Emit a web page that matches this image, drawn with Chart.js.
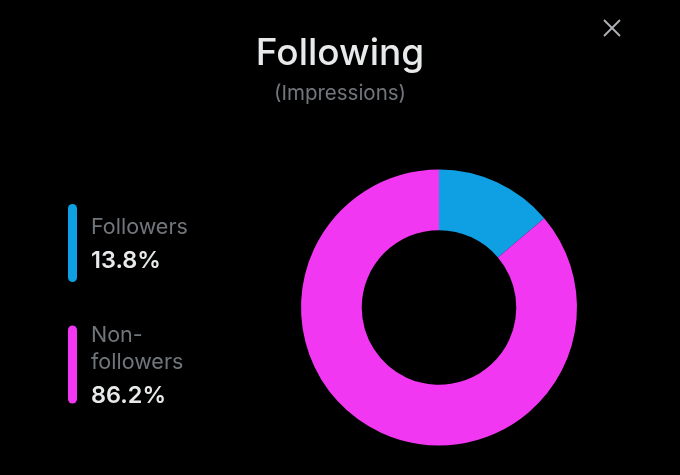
<!DOCTYPE html>
<html>
<head>
<meta charset="utf-8">
<script src="https://cdn.jsdelivr.net/npm/chart.js@4"></script>
<style>
  html, body { margin: 0; padding: 0; background: #000; }
  #wrap { position: relative; width: 680px; height: 475px; }
</style>
</head>
<body>
<div id="wrap"><canvas id="chart" width="680" height="475"></canvas></div>
<script>
// chart data
const labels = ['Followers', 'Non-followers'];
const shares = [13.8, 86.2];
const colors = ['#0fa0e4', '#f137f2'];
const titleText = 'Following';
const subtitleText = '(Impressions)';

const FONT = 'Inter, "Noto Sans", sans-serif';

// wrap a label on its hyphen when it gets too wide for the legend column
function wrapLabel(ctx, text, maxW) {
  if (ctx.measureText(text).width <= maxW || text.indexOf('-') < 0) return [text];
  const i = text.indexOf('-');
  return [text.slice(0, i + 1), text.slice(i + 1)];
}

const sidePanel = {
  id: 'sidePanel',
  afterDraw(chart) {
    const ctx = chart.ctx;
    ctx.save();
    ctx.textBaseline = 'alphabetic';

    // title + subtitle
    ctx.textAlign = 'center';
    ctx.fillStyle = '#e7e9ea';
    ctx.font = '500 37px ' + FONT;
    ctx.fillText(titleText, 340, 65);
    ctx.fillStyle = '#71767b';
    ctx.font = '20.5px ' + FONT;
    ctx.fillText(subtitleText, 340, 100);

    // close icon
    ctx.strokeStyle = '#b0b3b6';
    ctx.lineWidth = 1.8;
    ctx.beginPath();
    ctx.moveTo(604, 20); ctx.lineTo(620, 36);
    ctx.moveTo(620, 20); ctx.lineTo(604, 36);
    ctx.stroke();

    // legend
    ctx.textAlign = 'left';
    let y = 234;
    labels.forEach((lab, i) => {
      ctx.font = '21.5px ' + FONT;
      const lines = wrapLabel(ctx, lab, 105);
      const blockTop = y - 16;
      ctx.fillStyle = '#71767b';
      lines.forEach((ln, k) => ctx.fillText(ln, 91, y + k * 27));
      const pctY = y + (lines.length - 1) * 27 + 34;
      ctx.fillStyle = '#e7e9ea';
      ctx.font = '600 23.5px ' + FONT;
      ctx.fillText(shares[i].toFixed(1) + '%', 91, pctY);
      const mid = (blockTop + pctY) / 2;
      ctx.fillStyle = colors[i];
      ctx.beginPath();
      ctx.roundRect(68, mid - 39, 9, 78, 4.5);
      ctx.fill();
      y = pctY + 74;
    });
    ctx.restore();
  }
};

new Chart(document.getElementById('chart'), {
  type: 'doughnut',
  data: {
    labels,
    datasets: [{
      data: shares,
      backgroundColor: colors,
      borderWidth: 0,
      hoverOffset: 0
    }]
  },
  options: {
    responsive: false,
    animation: false,
    cutout: '56%',
    layout: { padding: { left: 301, right: 103, top: 169, bottom: 29 } },
    plugins: {
      legend: { display: false },
      tooltip: { enabled: false },
      title: { display: false }
    }
  },
  plugins: [sidePanel]
});
</script>
</body>
</html>
